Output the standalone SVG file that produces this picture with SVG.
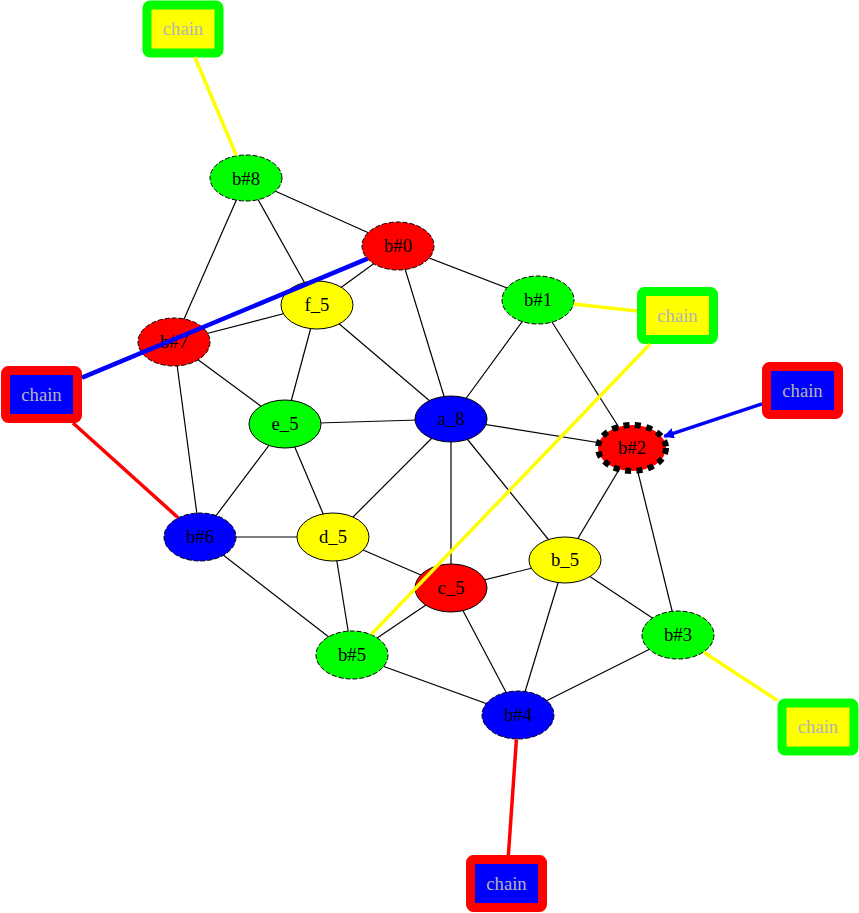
<svg xmlns="http://www.w3.org/2000/svg" width="859" height="913" viewBox="0 0 859 913">
<defs>
<style>
text{font-family:"Liberation Serif","Times New Roman",serif;font-size:18.67px;text-anchor:middle}
.n ellipse{stroke:#000;stroke-width:1}
.b ellipse{stroke-dasharray:5,2}
.e line{stroke:#000;stroke-width:1.2}
.chain rect{stroke-width:9;stroke-linejoin:round}
.chain text{fill:#b4b4b4}
.R{fill:#ff0000}.G{fill:#00ff00}.B{fill:#0000ff}.Y{fill:#ffff00}
.ce{fill:none}
</style>
<marker id="ah" viewBox="0 0 10 10" refX="9" refY="5" markerWidth="3" markerHeight="3" orient="auto" markerUnits="strokeWidth">
<path d="M0,0 L10,5 L0,10 z" fill="#0000ff"/>
</marker>
</defs>
<rect width="859" height="913" fill="#fff"/>
<g id="edges" class="e">
<line x1="246" y1="178" x2="398" y2="246"/>
<line x1="246" y1="178" x2="317" y2="305"/>
<line x1="246" y1="178" x2="174" y2="342"/>
<line x1="398" y1="246" x2="317" y2="305"/>
<line x1="398" y1="246" x2="538" y2="300"/>
<line x1="398" y1="246" x2="451" y2="419"/>
<line x1="538" y1="300" x2="451" y2="419"/>
<line x1="538" y1="300" x2="632" y2="448"/>
<line x1="317" y1="305" x2="174" y2="342"/>
<line x1="317" y1="305" x2="285" y2="424"/>
<line x1="317" y1="305" x2="451" y2="419"/>
<line x1="174" y1="342" x2="285" y2="424"/>
<line x1="174" y1="342" x2="200" y2="537"/>
<line x1="285" y1="424" x2="451" y2="419"/>
<line x1="285" y1="424" x2="200" y2="537"/>
<line x1="285" y1="424" x2="333" y2="537"/>
<line x1="451" y1="419" x2="632" y2="448"/>
<line x1="451" y1="419" x2="333" y2="537"/>
<line x1="451" y1="419" x2="451" y2="588"/>
<line x1="451" y1="419" x2="565" y2="560"/>
<line x1="632" y1="448" x2="565" y2="560"/>
<line x1="632" y1="448" x2="678" y2="635"/>
<line x1="200" y1="537" x2="333" y2="537"/>
<line x1="200" y1="537" x2="352" y2="655"/>
<line x1="333" y1="537" x2="451" y2="588"/>
<line x1="333" y1="537" x2="352" y2="655"/>
<line x1="451" y1="588" x2="565" y2="560"/>
<line x1="451" y1="588" x2="352" y2="655"/>
<line x1="451" y1="588" x2="518" y2="715"/>
<line x1="565" y1="560" x2="518" y2="715"/>
<line x1="565" y1="560" x2="678" y2="635"/>
<line x1="678" y1="635" x2="518" y2="715"/>
<line x1="352" y1="655" x2="518" y2="715"/>
</g>
<g id="b8" class="n b"><ellipse class="G" cx="246" cy="178" rx="36" ry="23"/><text x="246" y="185">b#8</text></g>
<g id="b0" class="n b"><ellipse class="R" cx="398" cy="246" rx="36" ry="24"/><text x="398" y="252">b#0</text></g>
<g id="b1" class="n b"><ellipse class="G" cx="538" cy="300" rx="36" ry="24"/><text x="538" y="306">b#1</text></g>
<g id="f5" class="n"><ellipse class="Y" cx="317" cy="305" rx="36" ry="24"/><text x="317" y="311">f_5</text></g>
<g id="b7" class="n b"><ellipse class="R" cx="174" cy="342" rx="36" ry="24"/><text x="174" y="348">b#7</text></g>
<g id="e5" class="n"><ellipse class="G" cx="285" cy="424" rx="36" ry="24"/><text x="285" y="430">e_5</text></g>
<g id="a8" class="n"><ellipse class="B" cx="451" cy="419" rx="36" ry="23"/><text x="451" y="425">a_8</text></g>
<g id="b2" class="n"><ellipse class="R" cx="632" cy="448" rx="34" ry="23" style="stroke-width:6;stroke-dasharray:6,5.5"/><text x="632" y="454">b#2</text></g>
<g id="b6" class="n b"><ellipse class="B" cx="200" cy="537" rx="36" ry="24"/><text x="200" y="543">b#6</text></g>
<g id="d5" class="n"><ellipse class="Y" cx="333" cy="537" rx="36" ry="24"/><text x="333" y="543">d_5</text></g>
<g id="b5n" class="n"><ellipse class="Y" cx="565" cy="560" rx="36" ry="23"/><text x="565" y="566">b_5</text></g>
<g id="c5" class="n"><ellipse class="R" cx="451" cy="588" rx="36" ry="24"/><text x="451" y="594">c_5</text></g>
<g id="b3" class="n b"><ellipse class="G" cx="678" cy="635" rx="36" ry="24"/><text x="678" y="641">b#3</text></g>
<g id="b5" class="n b"><ellipse class="G" cx="352" cy="655" rx="36" ry="24"/><text x="352" y="661">b#5</text></g>
<g id="b4" class="n b"><ellipse class="B" cx="518" cy="715" rx="36" ry="24"/><text x="518" y="721">b#4</text></g>
<g id="chain1" class="chain"><rect x="147" y="5" width="72" height="48" rx="3" class="Y" stroke="#00ff00"/><text x="183" y="35">chain</text></g>
<g id="chain2" class="chain"><rect x="641.5" y="291.5" width="72" height="48" rx="3" class="Y" stroke="#00ff00"/><text x="677.5" y="321.5">chain</text></g>
<g id="chain3" class="chain"><rect x="5.5" y="370.5" width="72" height="48" rx="3" class="B" stroke="#ff0000"/><text x="41.5" y="400.5">chain</text></g>
<g id="chain4" class="chain"><rect x="766.5" y="366.5" width="72" height="48" rx="3" class="B" stroke="#ff0000"/><text x="802.5" y="396.5">chain</text></g>
<g id="chain5" class="chain"><rect x="782" y="703" width="72" height="48" rx="3" class="Y" stroke="#00ff00"/><text x="818" y="733">chain</text></g>
<g id="chain6" class="chain"><rect x="470.5" y="859.5" width="72" height="48" rx="3" class="B" stroke="#ff0000"/><text x="506.5" y="889.5">chain</text></g>
<g id="chain-edges" class="ce">
<line x1="194.8" y1="57" x2="236.3" y2="155.4" stroke="#ffff00" stroke-width="3.5"/>
<line x1="82" y1="377.6" x2="367.5" y2="258.7" stroke="#0000ff" stroke-width="4.5"/>
<line x1="73" y1="423" x2="178.1" y2="517.7" stroke="#ff0000" stroke-width="3.5"/>
<line x1="573.5" y1="303.9" x2="637" y2="311" stroke="#ffff00" stroke-width="3.5"/>
<line x1="650.1" y1="344" x2="371.4" y2="634.3" stroke="#ffff00" stroke-width="3.5"/>
<line x1="762" y1="403.9" x2="664.3" y2="436.3" stroke="#0000ff" stroke-width="3.5" marker-end="url(#ah)"/>
<line x1="703.7" y1="652.3" x2="777" y2="700.2" stroke="#ffff00" stroke-width="3.5"/>
<line x1="516.4" y1="739.4" x2="508.4" y2="855" stroke="#ff0000" stroke-width="3.5"/>
</g>
</svg>
